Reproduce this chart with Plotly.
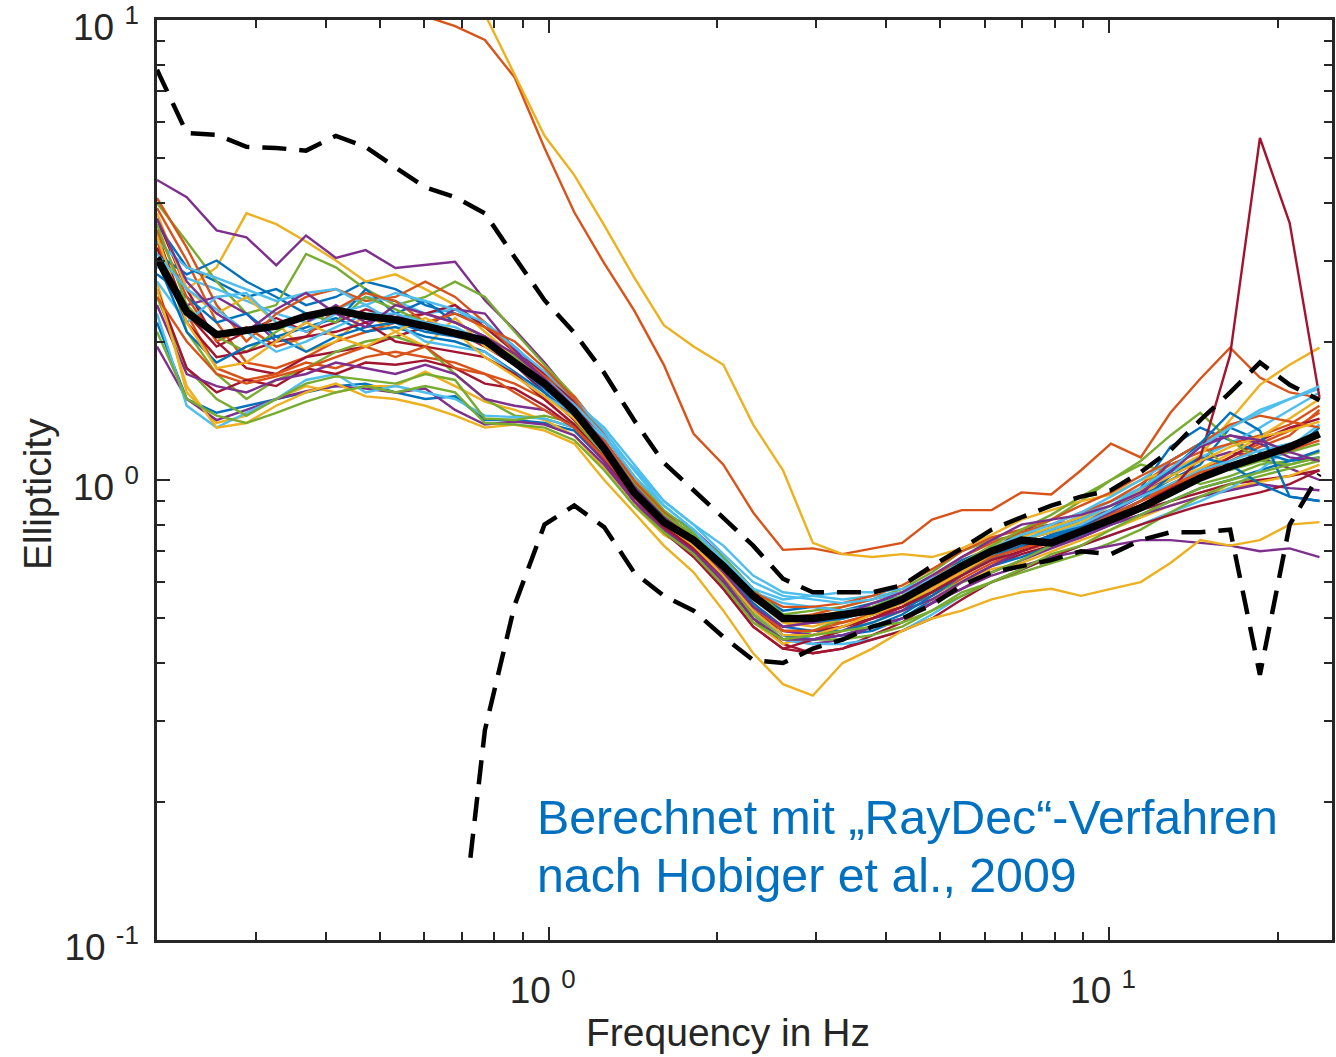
import math
import plotly.graph_objects as go

# Frequencies (Hz) shared by all curves
freq = [0.2, 0.226, 0.2555, 0.2888, 0.3264, 0.369, 0.4171, 0.4714, 0.5328, 0.6023,
        0.6807, 0.7695, 0.8697, 0.9831, 1.111, 1.256, 1.42, 1.605, 1.814, 2.05,
        2.317, 2.619, 2.961, 3.346, 3.782, 4.275, 4.832, 5.462, 6.173, 6.978,
        7.887, 8.915, 10.08, 11.39, 12.87, 14.55, 16.45, 18.59, 21.01, 23.75]

# Individual ellipticity curves (40 values each)
e01 = [3.6, 2.9, 2.7, 2.5, 2.6, 2.4, 2.5, 2.7, 2.6, 2.4, 2.3, 2.2, 1.95, 1.7, 1.45, 1.2,
       0.97, 0.84, 0.76, 0.66, 0.57, 0.52, 0.53, 0.52, 0.54, 0.56, 0.61, 0.67, 0.71, 0.76, 0.78, 0.80,
       0.86, 0.92, 1.0, 1.08, 1.3, 1.22, 1.15, 1.3]
e02 = [3.9, 3.0, 2.2, 1.8, 1.75, 1.85, 2.0, 2.1, 2.2, 2.3, 2.2, 2.05, 1.85, 1.66, 1.46, 1.22,
       0.98, 0.83, 0.74, 0.63, 0.54, 0.47, 0.46, 0.48, 0.5, 0.53, 0.58, 0.64, 0.68, 0.72, 0.75, 0.79,
       0.83, 0.9, 0.98, 1.05, 1.12, 1.2, 1.28, 1.4]
e03 = [3.2, 2.6, 2.9, 3.8, 3.6, 3.3, 3.0, 2.7, 2.8, 2.6, 2.4, 2.1, 1.85, 1.62, 1.38, 1.12,
       0.9, 0.78, 0.72, 0.62, 0.53, 0.48, 0.5, 0.52, 0.53, 0.55, 0.6, 0.65, 0.7, 0.73, 0.72, 0.78,
       0.84, 0.88, 0.95, 1.02, 1.08, 1.14, 1.2, 1.24]
e04 = [4.49, 4.12, 3.49, 3.37, 2.93, 3.40, 3.04, 3.16, 2.89, 2.93, 2.98, 2.46, 2.12, 1.8, 1.5, 1.22,
       0.99, 0.85, 0.78, 0.68, 0.58, 0.5, 0.49, 0.5, 0.52, 0.55, 0.6, 0.64, 0.7, 0.78, 0.8, 0.82,
       0.86, 0.93, 1.02, 1.1, 1.15, 1.12, 1.06, 1.0]
e05 = [4.0, 3.3, 2.7, 2.3, 2.4, 3.1, 2.9, 2.6, 2.4, 2.5, 2.7, 2.5, 2.1, 1.78, 1.52, 1.25,
       1.02, 0.86, 0.77, 0.68, 0.58, 0.51, 0.52, 0.53, 0.55, 0.58, 0.63, 0.7, 0.74, 0.76, 0.82, 0.9,
       1.0, 1.08, 1.04, 0.98, 1.02, 1.08, 1.1, 1.15]
e06 = [2.9, 2.75, 2.6, 2.45, 2.3, 2.2, 2.35, 2.5, 2.45, 2.3, 2.35, 2.15, 1.9, 1.68, 1.48, 1.3,
       1.08, 0.9, 0.8, 0.72, 0.62, 0.57, 0.56, 0.55, 0.56, 0.57, 0.62, 0.66, 0.7, 0.74, 0.78, 0.84,
       0.9, 0.96, 1.04, 1.12, 1.2, 1.3, 1.42, 1.55]
e07 = [3.7, 2.6, 2.0, 1.75, 1.7, 1.85, 1.9, 1.95, 2.05, 2.15, 2.1, 1.95, 1.78, 1.55, 1.35, 1.12,
       0.9, 0.77, 0.69, 0.6, 0.5, 0.44, 0.42, 0.43, 0.46, 0.49, 0.54, 0.6, 0.65, 0.69, 0.72, 0.75,
       0.8, 0.86, 0.9, 0.94, 0.98, 1.0, 1.02, 1.05]
e08 = [2.2, 1.5, 1.4, 1.45, 1.5, 1.55, 1.6, 1.62, 1.55, 1.5, 1.52, 1.35, 1.35, 1.33, 1.28, 1.1,
       0.92, 0.8, 0.72, 0.62, 0.52, 0.46, 0.45, 0.46, 0.47, 0.5, 0.55, 0.6, 0.65, 0.68, 0.72, 0.76,
       0.8, 0.84, 0.9, 0.96, 1.0, 1.05, 1.1, 1.16]
e09 = [3.3, 2.3, 1.75, 1.65, 1.7, 1.8, 1.75, 1.85, 1.9, 1.85, 1.8, 1.7, 1.62, 1.5, 1.32, 1.12,
       0.92, 0.8, 0.72, 0.63, 0.53, 0.48, 0.49, 0.49, 0.51, 0.53, 0.56, 0.61, 0.66, 0.7, 0.73, 0.78,
       0.82, 0.88, 0.96, 1.04, 1.1, 1.18, 1.25, 1.42]
e10 = [2.7, 1.55, 1.33, 1.38, 1.5, 1.6, 1.55, 1.6, 1.6, 1.72, 1.6, 1.48, 1.42, 1.35, 1.25, 1.06,
       0.88, 0.76, 0.7, 0.6, 0.49, 0.44, 0.46, 0.47, 0.49, 0.52, 0.55, 0.6, 0.64, 0.66, 0.7, 0.74,
       0.78, 0.83, 0.88, 0.92, 0.96, 0.99, 1.02, 1.08]
e11 = [1.95, 1.5, 1.35, 1.42, 1.5, 1.56, 1.6, 1.58, 1.55, 1.58, 1.42, 1.32, 1.34, 1.32, 1.25, 1.08,
       0.9, 0.79, 0.71, 0.61, 0.5, 0.45, 0.44, 0.45, 0.48, 0.5, 0.54, 0.58, 0.63, 0.67, 0.71, 0.75,
       0.8, 0.84, 0.88, 0.92, 0.95, 0.98, 0.96, 0.95]
e12 = [3.5, 2.1, 1.7, 1.5, 1.65, 1.75, 1.9, 2.0, 2.05, 1.95, 1.7, 1.5, 1.38, 1.36, 1.3, 1.14,
       0.95, 0.82, 0.73, 0.62, 0.51, 0.45, 0.47, 0.5, 0.52, 0.54, 0.57, 0.6, 0.63, 0.67, 0.72, 0.78,
       0.86, 0.95, 1.1, 1.2, 1.05, 1.1, 1.15, 1.2]
e13 = [2.3, 1.45, 1.3, 1.4, 1.5, 1.65, 1.7, 1.55, 1.6, 1.55, 1.5, 1.38, 1.37, 1.36, 1.3, 1.15,
       0.95, 0.82, 0.74, 0.64, 0.52, 0.45, 0.44, 0.44, 0.45, 0.47, 0.51, 0.56, 0.6, 0.64, 0.68, 0.72,
       0.76, 0.8, 0.85, 0.9, 0.96, 1.05, 1.18, 1.32]
e14 = [3.4, 2.3, 1.95, 2.1, 2.25, 2.1, 2.2, 2.35, 2.25, 2.3, 2.4, 2.15, 1.9, 1.7, 1.48, 1.2,
       0.94, 0.8, 0.7, 0.58, 0.48, 0.43, 0.45, 0.47, 0.5, 0.53, 0.57, 0.63, 0.68, 0.71, 0.76, 0.8,
       0.84, 0.9, 0.96, 1.02, 1.12, 1.22, 1.3, 1.36]
e15 = [3.1, 2.8, 3.0, 2.7, 2.5, 2.3, 2.2, 2.6, 2.3, 2.45, 2.2, 2.05, 1.78, 1.58, 1.4, 1.18,
       0.96, 0.83, 0.74, 0.64, 0.54, 0.48, 0.47, 0.47, 0.49, 0.52, 0.57, 0.62, 0.67, 0.72, 0.76, 0.8,
       0.86, 0.96, 1.18, 1.3, 1.22, 1.15, 1.1, 1.12]
e16 = [4.1, 3.2, 2.4, 2.0, 2.3, 2.5, 2.6, 2.45, 2.5, 2.7, 2.5, 2.2, 1.9, 1.68, 1.52, 1.26,
       1.0, 0.85, 0.75, 0.65, 0.55, 0.5, 0.51, 0.53, 0.55, 0.57, 0.61, 0.68, 0.73, 0.77, 0.8, 0.85,
       0.9, 0.98, 1.08, 1.15, 1.2, 1.25, 1.32, 1.45]
e17 = [3.8, 2.6, 2.3, 2.5, 2.2, 1.9, 2.0, 2.3, 2.1, 1.95, 2.25, 1.95, 1.8, 1.6, 1.4, 1.15,
       0.92, 0.8, 0.72, 0.64, 0.55, 0.49, 0.48, 0.5, 0.53, 0.56, 0.6, 0.66, 0.72, 0.75, 0.79, 0.83,
       0.88, 0.94, 1.0, 1.06, 1.14, 1.24, 1.36, 1.5]
e18 = [3.0, 2.4, 2.5, 2.3, 2.0, 2.2, 2.4, 2.2, 2.3, 2.15, 2.35, 2.3, 1.92, 1.65, 1.42, 1.16,
       0.93, 0.81, 0.73, 0.63, 0.53, 0.47, 0.46, 0.48, 0.5, 0.52, 0.55, 0.6, 0.65, 0.7, 0.74, 0.79,
       0.85, 0.92, 1.1, 1.2, 1.25, 1.2, 1.12, 1.1]
e19 = [2.5, 1.75, 1.5, 1.38, 1.5, 1.62, 1.68, 1.65, 1.62, 1.7, 1.65, 1.36, 1.35, 1.38, 1.33, 1.15,
       0.97, 0.84, 0.74, 0.62, 0.51, 0.45, 0.45, 0.45, 0.46, 0.48, 0.52, 0.57, 0.6, 0.63, 0.66, 0.69,
       0.73, 0.78, 0.85, 0.92, 0.98, 1.02, 1.06, 1.1]
e20 = [3.3, 2.9, 2.75, 2.6, 2.45, 2.55, 2.6, 2.4, 2.55, 2.45, 2.35, 2.2, 1.95, 1.72, 1.5, 1.28,
       1.05, 0.88, 0.78, 0.66, 0.57, 0.54, 0.53, 0.52, 0.53, 0.56, 0.61, 0.66, 0.71, 0.76, 0.8, 0.85,
       0.92, 1.0, 1.1, 1.2, 1.3, 1.42, 1.5, 1.58]
e21 = [2.6, 1.75, 1.55, 1.65, 1.6, 1.75, 1.7, 1.8, 1.78, 1.82, 1.75, 1.62, 1.58, 1.45, 1.3, 1.1,
       0.9, 0.77, 0.68, 0.58, 0.48, 0.43, 0.42, 0.43, 0.45, 0.47, 0.5, 0.55, 0.6, 0.64, 0.68, 0.72,
       0.76, 0.8, 0.84, 0.88, 0.91, 0.94, 0.98, 1.05]
e22 = [2.8, 2.5, 2.2, 2.3, 2.05, 2.15, 2.25, 2.1, 2.15, 2.05, 2.0, 1.9, 1.72, 1.55, 1.38, 1.16,
       0.95, 0.82, 0.73, 0.62, 0.52, 0.46, 0.45, 0.46, 0.48, 0.51, 0.56, 0.62, 0.68, 0.73, 0.75, 0.79,
       0.84, 0.9, 1.02, 1.12, 1.08, 0.98, 0.92, 0.9]
e23 = [3.5, 2.5, 2.0, 2.15, 1.95, 2.05, 2.35, 2.55, 2.45, 2.2, 2.3, 2.15, 2.0, 1.75, 1.5, 1.22,
       0.98, 0.84, 0.75, 0.66, 0.57, 0.53, 0.53, 0.54, 0.56, 0.59, 0.64, 0.7, 0.75, 0.78, 0.82, 0.88,
       0.94, 1.02, 1.1, 1.2, 1.32, 1.38, 1.34, 1.3]
e24 = [3.6, 2.4, 2.05, 1.9, 2.1, 2.3, 2.2, 2.5, 2.35, 2.2, 2.1, 2.0, 1.85, 1.62, 1.42, 1.2,
       0.98, 0.84, 0.76, 0.66, 0.56, 0.5, 0.5, 0.51, 0.53, 0.56, 0.6, 0.66, 0.72, 0.78, 0.84, 0.92,
       1.0, 1.1, 1.25, 1.4, 1.22, 1.1, 1.08, 1.12]
e25 = [2.7, 2.2, 2.5, 2.55, 2.2, 2.1, 2.3, 2.4, 2.2, 2.0, 1.95, 1.9, 1.7, 1.52, 1.4, 1.24,
       1.06, 0.9, 0.8, 0.69, 0.6, 0.56, 0.55, 0.54, 0.55, 0.57, 0.6, 0.64, 0.69, 0.74, 0.77, 0.8,
       0.86, 0.92, 0.98, 1.05, 1.1, 1.16, 1.2, 1.25]
e26 = [2.4, 1.7, 1.6, 1.55, 1.65, 1.7, 1.8, 1.75, 1.7, 1.78, 1.7, 1.5, 1.45, 1.42, 1.3, 1.1,
       0.9, 0.78, 0.7, 0.6, 0.5, 0.45, 0.45, 0.46, 0.48, 0.5, 0.54, 0.58, 0.62, 0.65, 0.68, 0.7,
       0.72, 0.74, 0.74, 0.73, 0.72, 0.7, 0.71, 0.68]
e27 = [2.6, 1.6, 1.3, 1.33, 1.45, 1.55, 1.62, 1.52, 1.5, 1.45, 1.38, 1.3, 1.32, 1.28, 1.2, 1.0,
       0.85, 0.72, 0.63, 0.52, 0.42, 0.36, 0.34, 0.40, 0.43, 0.47, 0.50, 0.52, 0.55, 0.57, 0.58, 0.56,
       0.58, 0.60, 0.66, 0.74, 0.72, 0.74, 0.80, 0.81]
e28 = [3.0, 2.1, 1.8, 1.95, 2.05, 1.9, 2.05, 2.15, 2.2, 2.1, 2.05, 1.98, 1.8, 1.6, 1.4, 1.18,
       0.96, 0.82, 0.74, 0.64, 0.55, 0.5, 0.49, 0.5, 0.52, 0.55, 0.6, 0.66, 0.71, 0.74, 0.77, 0.82,
       0.88, 0.95, 1.05, 1.2, 1.4, 1.28, 0.92, 0.9]
e29 = [2.5, 2.0, 1.7, 1.62, 1.68, 1.75, 1.85, 1.95, 1.85, 1.95, 1.75, 1.7, 1.55, 1.42, 1.3, 1.12,
       0.94, 0.82, 0.73, 0.63, 0.53, 0.47, 0.47, 0.49, 0.51, 0.54, 0.58, 0.63, 0.68, 0.71, 0.74, 0.78,
       0.84, 0.9, 0.97, 1.04, 1.08, 1.12, 1.16, 1.22]
e30 = [3.4, 2.2, 1.75, 1.8, 2.0, 2.2, 2.05, 1.95, 2.1, 2.25, 2.1, 1.85, 1.68, 1.52, 1.36, 1.16,
       0.95, 0.81, 0.72, 0.62, 0.52, 0.46, 0.46, 0.48, 0.51, 0.54, 0.58, 0.63, 0.69, 0.74, 0.77, 0.81,
       0.88, 0.95, 1.02, 1.1, 1.18, 1.24, 1.28, 1.34]
e31 = [2.1, 1.5, 1.38, 1.33, 1.4, 1.48, 1.55, 1.6, 1.55, 1.6, 1.55, 1.33, 1.32, 1.3, 1.22, 1.05,
       0.88, 0.77, 0.69, 0.59, 0.49, 0.45, 0.46, 0.47, 0.48, 0.49, 0.52, 0.56, 0.6, 0.64, 0.69, 0.72,
       0.78, 0.84, 0.9, 0.96, 1.0, 1.04, 1.08, 1.12]
e32 = [3.1, 2.6, 2.35, 2.1, 1.9, 2.0, 2.15, 2.3, 2.3, 2.2, 2.15, 2.0, 1.82, 1.64, 1.46, 1.25,
       1.02, 0.88, 0.78, 0.67, 0.58, 0.55, 0.56, 0.57, 0.57, 0.58, 0.61, 0.65, 0.7, 0.74, 0.78, 0.82,
       0.88, 0.96, 1.06, 1.18, 1.3, 1.4, 1.5, 1.6]
e33 = [3.7, 2.7, 2.3, 2.1, 2.35, 2.55, 2.3, 2.15, 2.4, 2.3, 2.2, 2.05, 1.88, 1.66, 1.44, 1.2,
       0.97, 0.83, 0.74, 0.63, 0.53, 0.48, 0.49, 0.51, 0.54, 0.57, 0.62, 0.68, 0.74, 0.8, 0.82, 0.84,
       0.88, 0.94, 1.04, 1.18, 1.25, 1.22, 1.15, 1.1]
# Outlier curves
o_orange = [16.0, 15.2, 14.5, 13.8, 13.0, 12.5, 11.8, 11.2, 10.7, 10.2, 9.7, 9.05, 7.5, 5.27, 3.82, 2.96,
            2.34, 1.78, 1.26, 1.08, 0.85, 0.705, 0.71, 0.69, 0.71, 0.73, 0.82, 0.86, 0.86, 0.94, 0.93, 1.05,
            1.2, 1.12, 1.40, 1.66, 1.94, 1.67, 1.55, 1.51]
o_yellow = [25.0, 23.0, 21.0, 19.0, 17.0, 16.0, 15.0, 14.0, 13.0, 12.0, 11.0, 10.3, 7.6, 5.6, 4.6, 3.58,
            2.76, 2.17, 1.95, 1.78, 1.32, 1.05, 0.73, 0.69, 0.68, 0.69, 0.68, 0.71, 0.76, 0.82, 0.86, 0.90,
            0.93, 1.0, 1.05, 1.13, 1.35, 1.61, 1.78, 1.94]
o_spike = [3.2, 2.2, 1.85, 1.9, 2.0, 2.05, 2.1, 2.2, 2.0, 1.95, 1.9, 1.85, 1.7, 1.5, 1.32, 1.12,
           0.92, 0.79, 0.71, 0.62, 0.52, 0.47, 0.47, 0.48, 0.5, 0.53, 0.57, 0.62, 0.67, 0.7, 0.74, 0.78,
           0.82, 0.88, 0.95, 1.12, 1.87, 5.54, 3.62, 1.51]

# Statistics curves
median_vals = [3.04, 2.32, 2.07, 2.12, 2.16, 2.27, 2.34, 2.27, 2.23, 2.16, 2.09, 2.01, 1.80, 1.62, 1.41, 1.17,
               0.94, 0.81, 0.74, 0.65, 0.56, 0.50, 0.50, 0.51, 0.52, 0.55, 0.60, 0.65, 0.70, 0.74, 0.73, 0.77,
               0.82, 0.87, 0.94, 1.01, 1.07, 1.12, 1.18, 1.26]
upper_vals = [7.8, 5.68, 5.63, 5.3, 5.27, 5.2, 5.6, 5.3, 4.78, 4.33, 4.12, 3.80, 3.05, 2.46, 2.09, 1.71,
              1.35, 1.09, 0.95, 0.83, 0.72, 0.61, 0.57, 0.57, 0.57, 0.59, 0.65, 0.71, 0.78, 0.83, 0.88, 0.92,
              0.95, 1.04, 1.16, 1.35, 1.55, 1.80, 1.61, 1.49]
lower_freq = [0.725] + freq[11:]
lower_vals = [0.151, 0.286, 0.535, 0.80, 0.88, 0.79, 0.63, 0.56, 0.52, 0.456, 0.406, 0.40, 0.43, 0.45, 0.48,
              0.50, 0.535, 0.59, 0.63, 0.65, 0.67, 0.70, 0.69, 0.74, 0.77, 0.77, 0.78, 0.377, 0.80, 1.03]

curves = [e01, e02, e03, e04, e05, e06, e07, e08, e09, e10, e11, e12, e13, e14, o_orange,
          e15, e16, o_yellow, e17, e18, e19, e20, e21, e22, e23, e24, e25, e26, e27, o_spike,
          e28, e29, e30, e31, e32, e33]
curve_colors = ['#0072BD', '#D95319', '#EDB120', '#7E2F8E', '#77AC30', '#4DBEEE', '#A2142F',
                '#0072BD', '#D95319', '#EDB120', '#7E2F8E', '#77AC30', '#4DBEEE', '#A2142F',
                '#D95319', '#0072BD', '#D95319', '#EDB120', '#EDB120', '#7E2F8E', '#77AC30',
                '#4DBEEE', '#A2142F', '#0072BD', '#D95319', '#77AC30', '#4DBEEE', '#7E2F8E',
                '#EDB120', '#A2142F', '#0072BD', '#D95319', '#EDB120', '#77AC30', '#4DBEEE', '#7E2F8E']

x_tick_vals = [1, 10]
x_tick_text = ['10\u00a0<sup>0</sup>', '10\u00a0<sup>1</sup>']
y_tick_vals = [0.1, 1, 10]
y_tick_text = ['10\u00a0<sup>-1</sup>', '10\u00a0<sup>0</sup>', '10\u00a0<sup>1</sup>']
x_minor_vals = [0.3, 0.4, 0.5, 0.6, 0.7, 0.8, 0.9, 2, 3, 4, 5, 6, 7, 8, 9, 20]
y_minor_vals = [0.2, 0.3, 0.4, 0.5, 0.6, 0.7, 0.8, 0.9, 2, 3, 4, 5, 6, 7, 8, 9]

fig = go.Figure()
for vals, col in zip(curves, curve_colors):
    fig.add_trace(go.Scatter(x=freq, y=vals, mode='lines', line=dict(color=col, width=2.4),
                             hoverinfo='skip'))

fig.add_trace(go.Scatter(x=freq, y=upper_vals, mode='lines',
                         line=dict(color='black', width=4.5, dash='24px,13px')))
fig.add_trace(go.Scatter(x=lower_freq, y=lower_vals, mode='lines',
                         line=dict(color='black', width=4.5, dash='24px,13px')))
fig.add_trace(go.Scatter(x=freq, y=median_vals, mode='lines',
                         line=dict(color='black', width=7.5)))

axis_col = '#262626'
FONT = 'Liberation Sans, Arial, Helvetica, sans-serif'

fig.update_layout(
    width=1336, height=1057,
    margin=dict(l=157, r=4, t=20, b=117),
    plot_bgcolor='white', paper_bgcolor='white',
    showlegend=False,
    font=dict(family=FONT, color=axis_col),
    xaxis=dict(
        type='log', range=[math.log10(0.2), math.log10(25)],
        showgrid=False, zeroline=False, automargin=False,
        showline=True, linecolor=axis_col, linewidth=2.5, mirror='ticks',
        ticks='inside', ticklen=13, tickwidth=2, tickcolor=axis_col,
        tickmode='array', tickvals=x_tick_vals, ticktext=x_tick_text,
        tickfont=dict(size=37, color=axis_col), ticklabelstandoff=16,
        ticklabelshift=-6, ticklabeloverflow='allow',
        minor=dict(ticks='inside', ticklen=8, tickwidth=2, tickcolor=axis_col, showgrid=False,
                   tickmode='array', tickvals=x_minor_vals),
    ),
    yaxis=dict(
        type='log', range=[-1, 1],
        showgrid=False, zeroline=False, automargin=False,
        showline=True, linecolor=axis_col, linewidth=2.5, mirror='ticks',
        ticks='inside', ticklen=13, tickwidth=2, tickcolor=axis_col,
        tickmode='array', tickvals=y_tick_vals, ticktext=y_tick_text,
        tickfont=dict(size=37, color=axis_col), ticklabelstandoff=8,
        ticklabelshift=7, ticklabeloverflow='allow',
        minor=dict(ticks='inside', ticklen=8, tickwidth=2, tickcolor=axis_col, showgrid=False,
                   tickmode='array', tickvals=y_minor_vals),
    ),
)

# Axis titles placed as annotations (pixel-matched to the reference)
L, T, PW, PH = 157, 20, 1175, 920
fig.add_annotation(xref='paper', yref='paper', x=(728 - L) / PW, y=(T + PH - 1032) / PH,
                   xanchor='center', yanchor='middle', showarrow=False,
                   text='Frequency in Hz', font=dict(size=39, color=axis_col, family=FONT))
fig.add_annotation(xref='paper', yref='paper', x=(37 - L) / PW, y=(T + PH - 494) / PH,
                   xanchor='center', yanchor='middle', showarrow=False, textangle=-90,
                   text='Ellipticity', font=dict(size=39, color=axis_col, family=FONT))

note_col = '#0070C0'
fig.add_annotation(xref='paper', yref='paper', x=(535 - L) / PW, y=(T + PH - 817) / PH,
                   xanchor='left', yanchor='middle', showarrow=False,
                   text='Berechnet mit „RayDec“-Verfahren',
                   font=dict(size=48.3, color=note_col, family=FONT))
fig.add_annotation(xref='paper', yref='paper', x=(535 - L) / PW, y=(T + PH - 875) / PH,
                   xanchor='left', yanchor='middle', showarrow=False,
                   text='nach Hobiger et al., 2009',
                   font=dict(size=48.3, color=note_col, family=FONT))

fig.write_html('out.html')
